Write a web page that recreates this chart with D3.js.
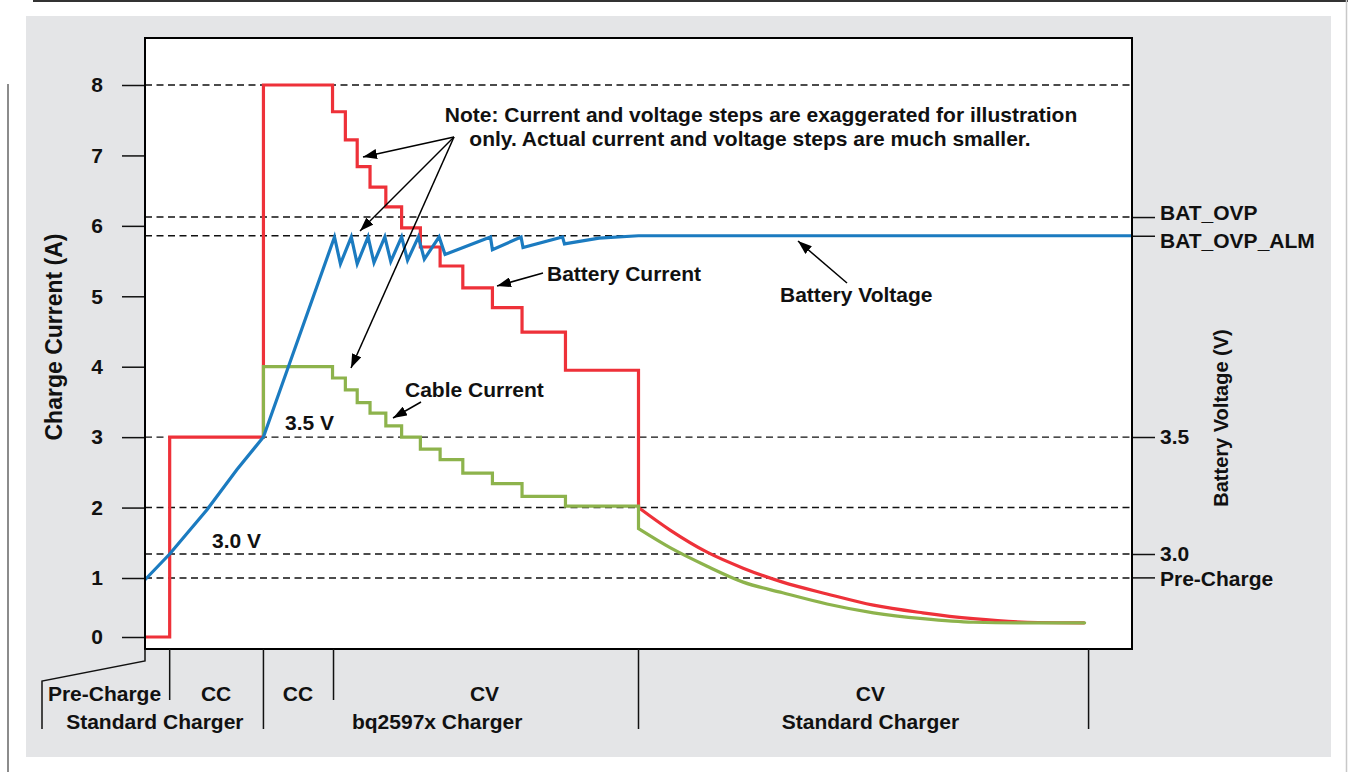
<!DOCTYPE html>
<html>
<head>
<meta charset="utf-8">
<script src="https://cdn.jsdelivr.net/npm/d3@7"></script>
<style>
  html, body { margin: 0; padding: 0; background: #fff; }
  svg { display: block; font-family: 'Liberation Sans', Arial, sans-serif; font-weight: bold; }
</style>
</head>
<body>
<div id="app"></div>
<script>
// time axis has no labels, unit is arbitrary (0..100 across the plot)
// CC / CV current steps
const stepTimes = [0, 2.5, 12.0, 19.0, 20.3, 21.5, 22.8, 24.4, 26.0, 27.9, 29.9, 32.2, 35.2, 38.2, 42.6, 50.0]
const batteryCurrent = [0, 3, 8, 7.62, 7.22, 6.84, 6.55, 6.27, 5.97, 5.70, 5.43, 5.12, 4.84, 4.49, 3.95, 2.0]
const cableTimes = [12.0, 12.0, 19.0, 20.3, 21.5, 22.8, 24.4, 26.0, 27.9, 29.9, 32.2, 35.2, 38.2, 42.6, 50.0]
const cableCurrent = [3.0, 4.0, 3.84, 3.67, 3.49, 3.34, 3.16, 3.00, 2.83, 2.68, 2.49, 2.34, 2.16, 2.02, 1.70]
// standard charger CV taper
const taperTimes = [50.0, 53.2, 56.9, 60.6, 64.6, 69.1, 73.8, 78.8, 83.9, 89.4, 95.2]
const batteryTaper = [2.0, 1.68, 1.37, 1.14, 0.93, 0.73, 0.54, 0.41, 0.31, 0.25, 0.24]
const cableTaper = [1.70, 1.43, 1.17, 0.93, 0.75, 0.56, 0.41, 0.31, 0.25, 0.24, 0.24]
// battery voltage (V)
const voltTimes = [0, 2.5, 6.3, 9.3, 12.0, 19.2, 19.8, 20.9, 21.5, 22.6, 23.2, 24.3, 24.9, 26.0, 26.6, 27.7, 28.3, 29.8, 30.4, 35.0, 35.2, 38.1, 38.3, 42.3, 42.5, 46.0, 50.0, 100]
const batteryVoltage = [2.89, 3.0, 3.19, 3.36, 3.5, 4.355, 4.24, 4.355, 4.24, 4.355, 4.245, 4.355, 4.25, 4.355, 4.255, 4.355, 4.26, 4.355, 4.28, 4.355, 4.30, 4.355, 4.31, 4.355, 4.325, 4.35, 4.36, 4.36]

// axes
const currentTicks = [0, 1, 2, 3, 4, 5, 6, 7, 8]
const currentGrid = [8, 3, 2, 1]
const voltTicks = [4.44, 4.36, 3.5, 3.0, 2.9]
const voltTickLabels = ['BAT_OVP', 'BAT_OVP_ALM', '3.5', '3.0', 'Pre-Charge']
const voltGrid = [4.44, 4.36, 3.0]

// phases under the plot
const phaseSplits = [2.5, 19.1] // short dividers
const chargerSplits = [12.0, 50.0, 95.6] // long dividers
const phaseNames = ['Pre-Charge', 'CC', 'CC', 'CV', 'CV']
const phaseNameAt = [-4.1, 7.2, 15.5, 34.4, 73.5]
const chargerNames = ['Standard Charger', 'bq2597x Charger', 'Standard Charger']
const chargerNameAt = [1.0, 29.6, 73.5]

const _config = {
  width: 1348,
  height: 772,
  box: { left: 145, top: 38, right: 1132, bottom: 649 },
  panel: { x: 26, y: 16, w: 1305, h: 741, fill: '#e4e5e7' },
  font: 21,
  red: '#ee3139',
  blue: '#1b7bc0',
  green: '#8db34c',
}
const box = _config.box

const svg = d3.select('#app')
  .append('svg')
  .attr('width', _config.width)
  .attr('height', _config.height)

// page frame bits
svg.append('rect')
  .attr('x', _config.panel.x).attr('y', _config.panel.y)
  .attr('width', _config.panel.w).attr('height', _config.panel.h)
  .attr('fill', _config.panel.fill)
svg.append('line')
  .attr('x1', 33).attr('x2', _config.width).attr('y1', 1).attr('y2', 1)
  .attr('stroke', '#333').attr('stroke-width', 2)
svg.append('line')
  .attr('x1', 8).attr('x2', 8).attr('y1', 84).attr('y2', _config.height)
  .attr('stroke', '#666').attr('stroke-width', 1.5)
svg.append('line')
  .attr('x1', 1346.5).attr('x2', 1346.5).attr('y1', 0).attr('y2', _config.height)
  .attr('stroke', '#c8c8c8').attr('stroke-width', 1.5)

svg.append('rect')
  .attr('x', box.left).attr('y', box.top)
  .attr('width', box.right - box.left).attr('height', box.bottom - box.top)
  .attr('fill', '#fff')

// scales
const x = d3.scaleLinear().domain([0, 100]).range([box.left, box.right])
const y = d3.scaleLinear().domain([0, 1, 8]).range([637, 578, 85]) // 0..1 A is drawn compressed
const v = d3.scaleLinear().domain([3.0, 3.5]).range([554, 437])

// dashed reference lines
const gridYs = currentGrid.map(d => y(d)).concat(voltGrid.map(d => v(d)))
svg.append('g')
  .selectAll('line')
  .data(gridYs)
  .enter()
  .append('line')
  .attr('x1', box.left).attr('x2', box.right)
  .attr('y1', d => d).attr('y2', d => d)
  .attr('stroke', '#111')
  .attr('stroke-width', 1.4)
  .attr('stroke-dasharray', '7,4.5')

// axes
const yAxis = d3.axisLeft(y).tickValues(currentTicks).tickSize(23).tickPadding(19)
const gy = svg.append('g')
  .attr('transform', `translate(${box.left}, 0)`)
  .call(yAxis)
const vAxis = d3.axisRight(v).tickValues(voltTicks).tickSize(23).tickPadding(5)
  .tickFormat((d, i) => voltTickLabels[i])
const gv = svg.append('g')
  .attr('transform', `translate(${box.right}, 0)`)
  .call(vAxis)
;[gy, gv].forEach(g => {
  g.select('.domain').remove()
  g.selectAll('.tick line').attr('stroke', '#111').attr('stroke-width', 1.5)
  g.selectAll('.tick text')
    .attr('font-family', "'Liberation Sans', Arial, sans-serif")
    .attr('font-weight', 'bold')
    .attr('font-size', _config.font)
    .attr('fill', '#111')
})
// pull the two top labels apart
gv.selectAll('.tick text').attr('dy', (d, i) => [0.1, 0.55, 0.32, 0.3, 0.38][i] + 'em')

svg.append('text')
  .attr('transform', 'translate(62, 337) rotate(-90)')
  .attr('text-anchor', 'middle')
  .attr('font-size', 23)
  .attr('fill', '#111')
  .text('Charge Current (A)')
svg.append('text')
  .attr('transform', 'translate(1228, 418) rotate(-90)')
  .attr('text-anchor', 'middle')
  .attr('font-size', 20)
  .attr('fill', '#111')
  .text('Battery Voltage (V)')

// series
const stepLine = d3.line().x(d => x(d[0])).y(d => y(d[1])).curve(d3.curveStepAfter)
const taperLine = d3.line().x(d => x(d[0])).y(d => y(d[1])).curve(d3.curveMonotoneX)
const voltLine = d3.line().x(d => x(d[0])).y(d => v(d[1]))

const series = svg.append('g').attr('fill', 'none').attr('stroke-width', 3.2)
series.append('path')
  .attr('d', stepLine(d3.zip(stepTimes, batteryCurrent)) + taperLine(d3.zip(taperTimes, batteryTaper)).replace('M', 'L'))
  .attr('stroke', _config.red)
  .attr('stroke-linejoin', 'miter')
series.append('path')
  .attr('d', stepLine(d3.zip(cableTimes, cableCurrent)) + taperLine(d3.zip(taperTimes, cableTaper)).replace('M', 'L'))
  .attr('stroke', _config.green)
  .attr('stroke-linecap', 'round')
series.append('path')
  .attr('d', voltLine(d3.zip(voltTimes, batteryVoltage)))
  .attr('stroke', _config.blue)

// annotations
svg.append('defs')
  .append('marker')
  .attr('id', 'arrow')
  .attr('viewBox', '0 0 14 10')
  .attr('refX', 14).attr('refY', 5)
  .attr('markerWidth', 14).attr('markerHeight', 10)
  .attr('markerUnits', 'userSpaceOnUse')
  .attr('orient', 'auto')
  .append('path')
  .attr('d', 'M0,0 L14,5 L0,10 Z')
  .attr('fill', '#000')

const arrows = [
  [454, 137, 363, 157],
  [454, 137, 360, 231],
  [454, 137, 351, 368],
  [543, 273, 497, 286],
  [847, 283, 798, 241],
  [421, 402, 393, 418],
]
svg.append('g')
  .selectAll('line')
  .data(arrows)
  .enter()
  .append('line')
  .attr('x1', d => d[0]).attr('y1', d => d[1])
  .attr('x2', d => d[2]).attr('y2', d => d[3])
  .attr('stroke', '#000')
  .attr('stroke-width', 1.5)
  .attr('marker-end', 'url(#arrow)')

const labels = [
  { x: 761, y: 122, anchor: 'middle', text: 'Note: Current and voltage steps are exaggerated for illustration' },
  { x: 750, y: 146, anchor: 'middle', text: 'only. Actual current and voltage steps are much smaller.' },
  { x: 547, y: 281, anchor: 'start', text: 'Battery Current' },
  { x: 780, y: 302, anchor: 'start', text: 'Battery Voltage' },
  { x: 405, y: 397, anchor: 'start', text: 'Cable Current' },
  { x: 285, y: 430, anchor: 'start', text: '3.5 V' },
  { x: 212, y: 548, anchor: 'start', text: '3.0 V' },
]
svg.append('g')
  .selectAll('text')
  .data(labels)
  .enter()
  .append('text')
  .attr('x', d => d.x).attr('y', d => d.y)
  .attr('text-anchor', d => d.anchor)
  .attr('font-size', _config.font)
  .attr('fill', '#111')
  .text(d => d.text)

// plot frame
svg.append('rect')
  .attr('x', box.left).attr('y', box.top)
  .attr('width', box.right - box.left).attr('height', box.bottom - box.top)
  .attr('fill', 'none')
  .attr('stroke', '#000')
  .attr('stroke-width', 2)

// phase bar under the plot
const phases = svg.append('g').attr('stroke', '#111').attr('stroke-width', 1.5)
phases.selectAll('.short')
  .data(phaseSplits)
  .enter()
  .append('line')
  .attr('x1', d => x(d)).attr('x2', d => x(d))
  .attr('y1', box.bottom).attr('y2', 700)
phases.selectAll('.long')
  .data(chargerSplits)
  .enter()
  .append('line')
  .attr('x1', d => x(d)).attr('x2', d => x(d))
  .attr('y1', box.bottom).attr('y2', 729)
phases.append('path')
  .attr('fill', 'none')
  .attr('d', `M${box.left},${box.bottom} V661 L42,681 V729`)

svg.append('g')
  .selectAll('text')
  .data(phaseNames)
  .enter()
  .append('text')
  .attr('x', (d, i) => x(phaseNameAt[i]))
  .attr('y', 701)
  .attr('text-anchor', 'middle')
  .attr('font-size', 21)
  .attr('fill', '#111')
  .text(d => d)
svg.append('g')
  .selectAll('text')
  .data(chargerNames)
  .enter()
  .append('text')
  .attr('x', (d, i) => x(chargerNameAt[i]))
  .attr('y', 729)
  .attr('text-anchor', 'middle')
  .attr('font-size', 21)
  .attr('fill', '#111')
  .text(d => d)
</script>
</body>
</html>
